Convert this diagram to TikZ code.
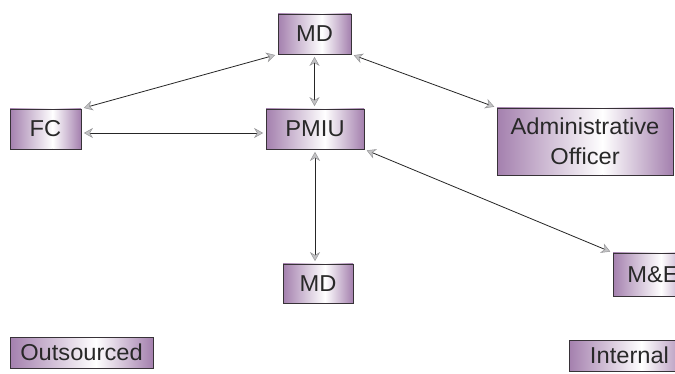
\documentclass[tikz,border=0pt]{standalone}
\usepackage{fontspec}
\setmainfont[FakeStretch=1.03]{Liberation Sans}
\usetikzlibrary{arrows.meta,calc,shadows}
\definecolor{boxpurple}{RGB}{164,128,174}
\definecolor{boxline}{RGB}{55,50,55}
\definecolor{textgray}{RGB}{40,40,40}
\definecolor{tipfill}{RGB}{195,195,197}
\definecolor{tipdraw}{RGB}{150,150,152}
\tikzset{
  unit/.style={
    draw=boxline, line width=0.8pt, inner sep=2pt,
    text=textgray, font=\fontsize{23}{30}\selectfont, align=center,
    drop shadow={shadow xshift=1.2pt, shadow yshift=-1.2pt, fill=gray!35, opacity=1},
    path picture={
      \coordinate (mid) at ($(path picture bounding box.south west)!0.6!(path picture bounding box.south east)$);
      \shade[left color=boxpurple, right color=white]
        (path picture bounding box.south west) rectangle (mid |- path picture bounding box.north);
      \shade[left color=white, right color=boxpurple]
        (mid) rectangle (path picture bounding box.north east);
    }
  },
  link/.style={
    draw=black!85, line width=0.8pt,
    {Stealth[length=9pt,width=10pt,inset=3pt,color=tipdraw,fill=tipfill,line width=0.5pt]}-{Stealth[length=9pt,width=10pt,inset=3pt,color=tipdraw,fill=tipfill,line width=0.5pt]},
    shorten <=2.5pt, shorten >=2.5pt
  }
}
\begin{document}
\begin{tikzpicture}[x=1pt,y=-1pt]
  \useasboundingbox (0,0) rectangle (675,374);
  \fill[white] (0,0) rectangle (675,374);
  \clip (0,0) rectangle (675,374);

  % organisation units
  \node[unit, minimum width=73pt, minimum height=40pt] (mdtop) at (314.5,34) {MD};
  \node[unit, minimum width=71pt, minimum height=40pt] (fc) at (45.5,129) {FC};
  \node[unit, minimum width=98pt, minimum height=40pt] (pmiu) at (315,129) {PMIU};
  \node[unit, minimum width=176pt, minimum height=67pt] (admin) at (585,141.5) {Administrative\\Officer};
  \node[unit, minimum width=70pt, minimum height=39pt] (mdbot) at (318,283.5) {MD};
  \node[unit, minimum width=80pt, minimum height=43pt] (me) at (653,274.5) {M\&E};

  % legend
  \node[unit, minimum width=143pt, minimum height=31pt] (outs) at (81.5,352.5) {Outsourced};
  \node[unit, minimum width=121pt, minimum height=31pt] (inte) at (629.5,355.5) {Internal};

  % reporting lines
  \draw[link] (mdtop.south west) -- (fc.north east);
  \draw[link] (mdtop.south) -- (pmiu.north -| mdtop.south);
  \draw[link] (mdtop.south east) -- (admin.north west);
  \coordinate (fcR) at ([yshift=-4pt]fc.east);
  \draw[link] (fcR) -- (fcR -| pmiu.west);
  \draw[link] (pmiu.south) -- (pmiu.south |- mdbot.north);
  \draw[link] (pmiu.south east) -- (me.north west);
\end{tikzpicture}
\end{document}
